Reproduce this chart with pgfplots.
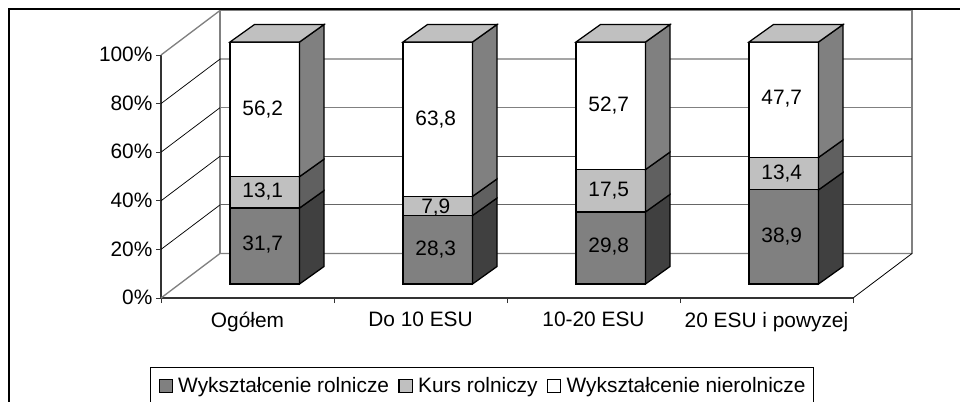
\documentclass[border=0pt]{standalone}
\usepackage{pgfplots}
\usepackage{pgfplotstable}
\pgfplotsset{compat=1.18}
\usepackage{fontspec}
\setmainfont{Liberation Sans}
\definecolor{gA}{gray}{0.502}
\definecolor{gB}{gray}{0.753}
\definecolor{sA}{gray}{0.25}
\definecolor{sB}{gray}{0.375}
\definecolor{wl}{gray}{0.5}
\pgfplotstableread{
x a b c
0.5 31.39 12.97 55.64
1.5 28.3 7.9 63.8
2.5 29.8 17.5 52.7
3.5 38.9 13.4 47.7
}\barsdata
\pgfplotstableread{
x y lab
0.4885 72.73 56,2
0.4885 38.55 13,1
0.4885 16.94 31,7
1.4885 68.60 63,8
1.4885 32.23 7,9
1.4885 14.59 28,3
2.4885 74.38 52,7
2.4885 39.26 17,5
2.4885 16.12 29,8
3.4885 77.27 47,7
3.4885 46.28 13,4
3.4885 20.25 38,9
}\labelsdata
\newcommand{\chartfont}{\fontsize{15.65}{18}\selectfont}
\begin{document}
\begin{tikzpicture}
\useasboundingbox (0,0) rectangle (720pt,300.75pt);
\clip (0,0) rectangle (720pt,300.75pt);
\draw[black,line width=.8pt] (6.75pt,-2pt) -- (6.75pt,294pt) -- (725pt,294pt);
% walls, ticks, tick labels
\begin{axis}[
  at={(120.75pt,77.25pt)}, anchor=south west,
  scale only axis, width=519pt, height=182.25pt,
  xmin=0,xmax=4,ymin=0,ymax=100, clip=false,
  axis x line*=bottom, axis y line*=left,
  axis line style={-,draw=black!80,line width=.9pt},
  tick align=outside,
  tick style={draw=black!80,line width=.75pt},
  major tick length=3.75pt, minor tick length=3.75pt,
  xtick={0.5,1.5,2.5,3.5}, minor xtick={0,1,2,3,4},
  xticklabels={Ogółem,Do 10 ESU,10-20 ESU,20 ESU i powyzej},
  x tick style={draw=none}, minor x tick style={draw=black!80,line width=.75pt},
  ytick={0,20,40,60,80,100},
  yticklabels={0\%,20\%,40\%,60\%,80\%,100\%},
  tick label style={font=\chartfont},
  xticklabel style={inner sep=0pt,yshift=-6.5pt},
  yticklabel style={inner sep=0pt,xshift=-2.5pt,yshift=0.4pt},
]
\addplot[wl,line width=1pt] coordinates {(0.341,18.31) (0.341,118.31) (4.341,118.31) (4.341,18.31)};
\addplot[wl,line width=1pt] coordinates {(0,0) (0.341,18.31) (4.341,18.31)};
\addplot[black,line width=.6pt] coordinates {(4,0) (4.341,18.31)};
\addplot[wl,line width=1pt] coordinates {(0,100) (0.341,118.31)};
\addplot[black,line width=.55pt] coordinates {(0,80) (0.341,98.31) (4.341,98.31)};
\addplot[black,line width=.55pt] coordinates {(0,60) (0.341,78.31)};
\addplot[wl,line width=1pt] coordinates {(0.341,78.31) (4.341,78.31)};
\addplot[black,line width=.55pt] coordinates {(0,40) (0.341,58.31)};
\addplot[black!70,line width=.7pt] coordinates {(0.341,58.31) (4.341,58.31)};
\addplot[black,line width=.55pt] coordinates {(0,20) (0.341,38.31)};
\addplot[black!60,line width=.8pt] coordinates {(0.341,38.31) (4.341,38.31)};
\end{axis}
% front faces of the stacked bars, legend
\begin{axis}[
  at={(133.6875pt,87.75pt)}, anchor=south west,
  scale only axis, width=519pt, height=181.5pt,
  xmin=0,xmax=4,ymin=0,ymax=100, hide axis,
  ybar stacked, bar width=52.125pt,
  legend image code/.code={\draw[#1,line width=.8pt] (0pt,-4.9pt) rectangle (10pt,4.9pt);},
  legend columns=3,
  legend style={at={(-0.0408,-0.343)},anchor=north west,
    draw=black,line width=.75pt,font=\chartfont,
    inner xsep=6pt,inner ysep=7.2pt,
    nodes={inner sep=0pt},
    /tikz/every even column/.append style={column sep=7pt},
    /tikz/every odd column/.append style={column sep=4pt}},
]
\addplot[fill=gA,draw=black,line width=.95pt] table[x=x,y=a]{\barsdata};
\addplot[fill=gB,draw=black,line width=.95pt] table[x=x,y=b]{\barsdata};
\addplot[fill=white,draw=black,line width=.95pt] table[x=x,y=c]{\barsdata};
\legend{Wykształcenie rolnicze,Kurs rolniczy,Wykształcenie nierolnicze\hspace{2pt}}
\end{axis}
% sides and tops of the bars, data labels
\begin{axis}[
  at={(133.6875pt,87.75pt)}, anchor=south west,
  scale only axis, width=519pt, height=181.5pt,
  xmin=0,xmax=4,ymin=0,ymax=100, hide axis, clip=false,
]
\pgfplotsset{face/.style={draw=black,line width=.95pt,fill=#1,forget plot,line join=miter}}
\addplot[face=sA] coordinates {(0.7009,0) (0.8425,7.23) (0.8425,38.62) (0.7009,31.39)} --cycle;
\addplot[face=sB] coordinates {(0.7009,31.39) (0.8425,38.62) (0.8425,51.59) (0.7009,44.36)} --cycle;
\addplot[face=gA] coordinates {(0.7009,44.36) (0.8425,51.59) (0.8425,107.23) (0.7009,100)} --cycle;
\addplot[face=gB] coordinates {(0.2991,100) (0.4407,107.23) (0.8425,107.23) (0.7009,100)} --cycle;
\addplot[face=sA] coordinates {(1.7009,0) (1.8425,7.23) (1.8425,35.53) (1.7009,28.3)} --cycle;
\addplot[face=sB] coordinates {(1.7009,28.3) (1.8425,35.53) (1.8425,43.43) (1.7009,36.2)} --cycle;
\addplot[face=gA] coordinates {(1.7009,36.2) (1.8425,43.43) (1.8425,107.23) (1.7009,100)} --cycle;
\addplot[face=gB] coordinates {(1.2991,100) (1.4407,107.23) (1.8425,107.23) (1.7009,100)} --cycle;
\addplot[face=sA] coordinates {(2.7009,0) (2.8425,7.23) (2.8425,37.03) (2.7009,29.8)} --cycle;
\addplot[face=sB] coordinates {(2.7009,29.8) (2.8425,37.03) (2.8425,54.53) (2.7009,47.3)} --cycle;
\addplot[face=gA] coordinates {(2.7009,47.3) (2.8425,54.53) (2.8425,107.23) (2.7009,100)} --cycle;
\addplot[face=gB] coordinates {(2.2991,100) (2.4407,107.23) (2.8425,107.23) (2.7009,100)} --cycle;
\addplot[face=sA] coordinates {(3.7009,0) (3.8425,7.23) (3.8425,46.13) (3.7009,38.9)} --cycle;
\addplot[face=sB] coordinates {(3.7009,38.9) (3.8425,46.13) (3.8425,59.53) (3.7009,52.3)} --cycle;
\addplot[face=gA] coordinates {(3.7009,52.3) (3.8425,59.53) (3.8425,107.23) (3.7009,100)} --cycle;
\addplot[face=gB] coordinates {(3.2991,100) (3.4407,107.23) (3.8425,107.23) (3.7009,100)} --cycle;
\addplot[draw=none,mark=none,forget plot,point meta=explicit symbolic,
  nodes near coords, nodes near coords align={center},
  every node near coord/.append style={font=\chartfont,text=black,inner sep=0pt,yshift=-1pt}]
  table[x=x,y=y,meta=lab]{\labelsdata};
\end{axis}
\end{tikzpicture}
\end{document}
